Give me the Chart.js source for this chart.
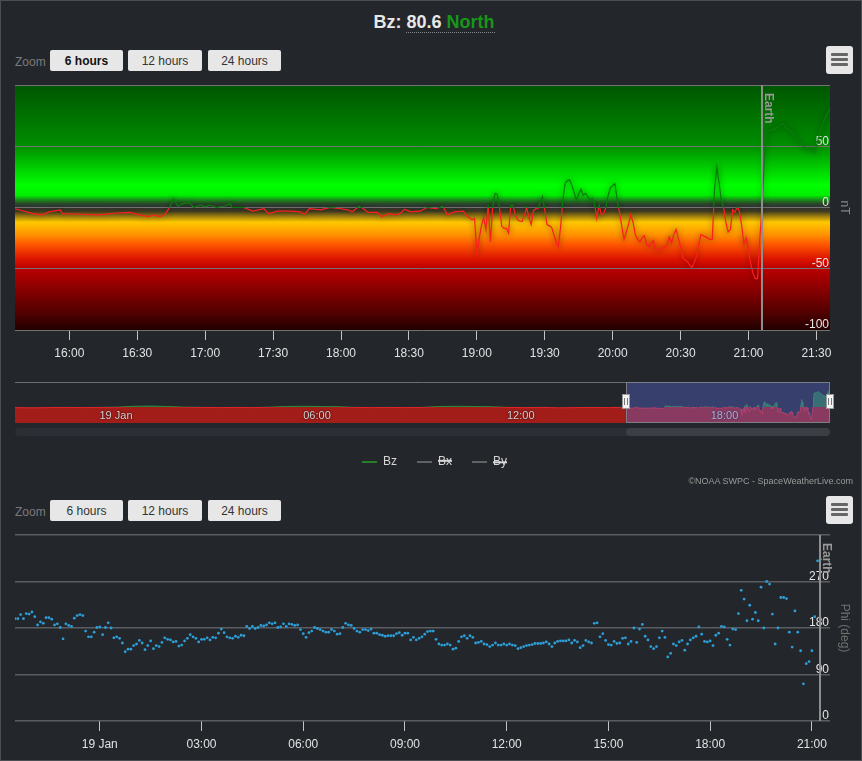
<!DOCTYPE html>
<html>
<head>
<meta charset="utf-8">
<title>Bz</title>
<script src="https://cdn.jsdelivr.net/npm/chart.js@4.4.1/dist/chart.umd.min.js"></script>
<style>
  html, body { margin: 0; padding: 0; background: #23262b; }
  #wrap { position: relative; width: 862px; height: 761px; background: #23262b; overflow: hidden;
          font-family: 'Liberation Sans', Arial, sans-serif; }
  #frame { position: absolute; left: 0; top: 0; width: 860px; height: 759px; border: 1px solid #4b4e53; pointer-events: none; }
  canvas { position: absolute; left: 0; }
  #title { position: absolute; left: 3px; top: 11px; width: 862px; text-align: center; font-weight: bold; font-size: 18px; line-height: 22px; color: #e8e8e8; }
  #title .u { border-bottom: 1px dotted #8a8a8a; }
  #title .north { color: #17961a; }
  .zoomlbl { position: absolute; left: 15px; font-size: 12px; color: #7b7b7b; }
  .btn { position: absolute; height: 21px; line-height: 22px; background: #e7e7e7; border-radius: 2px; font-size: 12px; color: #333; text-align: center; }
  .btn.sel { font-weight: bold; color: #111; }
  .menu { position: absolute; left: 826px; width: 27px; height: 28px; background: #e7e7e7; border-radius: 3px; }
  .menu i { position: absolute; left: 5px; width: 17px; height: 3px; background: #666; border-radius: 1px; }
  #credits { position: absolute; right: 9px; top: 476px; font-size: 9px; color: #9a9a9a; }
</style>
</head>
<body>
<div id="wrap">
  <div id="title">Bz: <span class="u"><span id="bzNow"></span> <span class="north">North</span></span></div>

  <div class="zoomlbl" style="top:55px">Zoom</div>
  <div class="btn sel" style="left:50px;top:50px;width:73px">6 hours</div>
  <div class="btn" style="left:128px;top:50px;width:74px">12 hours</div>
  <div class="btn" style="left:208px;top:50px;width:73px">24 hours</div>
  <div class="menu" style="top:46px"><i style="top:7px"></i><i style="top:12px"></i><i style="top:17px"></i></div>

  <canvas id="bzChart" width="862" height="290" style="top:80px"></canvas>
  <canvas id="navChart" width="862" height="108" style="top:370px"></canvas>
  <div id="credits">©NOAA SWPC - SpaceWeatherLive.com</div>

  <div class="zoomlbl" style="top:505px">Zoom</div>
  <div class="btn" style="left:50px;top:500px;width:73px">6 hours</div>
  <div class="btn" style="left:128px;top:500px;width:74px">12 hours</div>
  <div class="btn" style="left:208px;top:500px;width:73px">24 hours</div>
  <div class="menu" style="top:496px"><i style="top:7px"></i><i style="top:12px"></i><i style="top:17px"></i></div>

  <canvas id="phiChart" width="862" height="231" style="top:530px"></canvas>
  <div id="frame"></div>
</div>

<script>
// --- Bz (nT), last 6 hours, 19 Jan ---
const bzTimes = [
  '15:36','15:44','15:48','15:51','15:56','15:57','16:06','16:13','16:21','16:27',
  '16:31','16:35','16:37','16:40','16:42','16:44','16:46','16:48','16:50','16:53',
  '16:55','16:58','17:00','17:02','17:05','17:08','17:11','17:12','17:17','17:21',
  '17:26','17:28','17:32','17:38','17:42','17:44','17:46','17:51','17:55','18:00',
  '18:03','18:05','18:08','18:10','18:12','18:16','18:18','18:21','18:24','18:26',
  '18:28','18:31','18:35','18:38','18:42','18:45','18:47','18:50','18:54','18:56',
  '18:58','18:59','19:00','19:01','19:02','19:03','19:04','19:05','19:06','19:07',
  '19:08','19:09','19:10','19:11','19:12','19:13','19:14','19:15','19:16','19:17',
  '19:18','19:19','19:20','19:21','19:22','19:23','19:24','19:25','19:26','19:27',
  '19:28','19:29','19:30','19:31','19:32','19:33','19:34','19:35','19:36','19:37',
  '19:38','19:39','19:40','19:41','19:42','19:43','19:44','19:45','19:46','19:47',
  '19:48','19:49','19:50','19:51','19:52','19:53','19:54','19:55','19:56','19:57',
  '19:58','19:59','20:00','20:01','20:02','20:03','20:04','20:05','20:06','20:07',
  '20:08','20:09','20:10','20:11','20:12','20:13','20:14','20:15','20:16','20:17',
  '20:18','20:19','20:20','20:21','20:22','20:23','20:24','20:25','20:26','20:27',
  '20:28','20:29','20:30','20:31','20:32','20:33','20:34','20:35','20:36','20:37',
  '20:38','20:39','20:40','20:41','20:42','20:43','20:44','20:45','20:46','20:47',
  '20:48','20:49','20:50','20:51','20:52','20:53','20:54','20:55','20:56','20:57',
  '20:58','20:59','21:00','21:01','21:02','21:03','21:04','21:05','21:06','21:07',
  '21:08','21:10','21:12','21:15','21:17','21:20','21:22','21:24','21:25','21:27',
  '21:29','21:30','21:32','21:34','21:36'
];
const bzValues = [
  -1, -5, -6, -3.5, -2, -5, -5.5, -6, -4.5, -4,
  -6, -7.5, -6, -7.5, -6, -1, 7, 1, 3, 4,
  0, 2, 0.5, 2, 0, 1, 3, 0, 0, -3,
  -1, -5, -3, -3, -3.5, -5.5, -1, -2, 0, -1,
  -2, -3.5, 1, -1, -4, -4, -7.5, -5, -6, -5,
  -1.5, -3.5, -3, 0, -1, 1, -6, -3.5, -3, -7.5,
  -10, -9, -37, -26, -15, -8, -18, 2, -28, 0,
  11.5, 11, 0, -15, -17, -17, -21, 2, 2, -6,
  -10, -11, -11.5, -6, 0, -8, -14, -2.6, -1, -1,
  4, 9, -2, -14, -15, -16, -22, -28, -32, -16,
  6, 20, 22, 22.5, 18, 12, 6, 11, 15, 10,
  11.5, 9, 6, 7.5, 3, -9, 2, -6, -5, 0,
  10, 16, 18, 19.5, 6, -4, -15, -26, -20, -14,
  -6, -12, -22, -26, -28, -25, -23, -30, -32, -29,
  -27, -35, -35, -34, -33, -32, -31, -24, -29, -22,
  -18, -25, -32, -41, -43, -44, -47, -49, -45, -40,
  -30, -22, -23, -24, -25, -26, -26, 15, 33, 20,
  6, 0, -12, -20, -18, -2, -4, 0.5, -3.5, -15,
  -30, -25, -35, -46, -54, -58, -58, -25, 0, 40,
  62, 63, 64.5, 68.6, 64.5, 60, 55, 51, 47, 49,
  45, 50, 64, 74, 80.6
];
const bzTickTimes = ['16:00','16:30','17:00','17:30','18:00','18:30','19:00','19:30','20:00','20:30','21:00','21:30'];
const bzTickLabels = ['16:00','16:30','17:00','17:30','18:00','18:30','19:00','19:30','20:00','20:30','21:00','21:30'];
const bzRange = ['15:36', '21:36'];
const bzEarth = '21:06';

// --- navigator: 24 hours of Bz, earlier part from 18 Jan 21:36 ---
const navEarlyTimes = [
  '21:36','22:06','22:36','23:06','23:36','00:06','00:36','01:06','01:36','02:06',
  '02:36','03:06','03:36','04:06','04:36','05:06','05:36','06:06','06:36','07:06',
  '07:36','08:06','08:36','09:06','09:36','10:06','10:36','11:06','11:36','12:06',
  '12:36','13:06','13:36','14:06','14:36','15:06'
];
const navEarlyValues = [
  -3, -4, -3, -2, -3, -2, -1, 3, 4, 2,
  -1, -2, -3, -2, -3, -1, 2, 3, 2, 1,
  -2, -3, -2, -3, -2, 2, 3, 2, 1, -2,
  -3, -2, -4, -3, -2, -3
];
const navTickTimes = ['00:00','06:00','12:00','18:00'];
const navTickLabels = ['19 Jan','06:00','12:00','18:00'];

// --- Phi (deg), 24 hours, 5 minute samples, from 18 Jan 21:30 ---
const phiTimes = [
  '21:30','21:35','21:40','21:45','21:50','21:55',
  '22:00','22:05','22:10','22:15','22:20','22:25','22:30','22:35','22:40','22:45','22:50','22:55',
  '23:00','23:05','23:10','23:15','23:20','23:25','23:30','23:35','23:40','23:45','23:50','23:55',
  '00:00','00:05','00:10','00:15','00:20','00:25','00:30','00:35','00:40','00:45','00:50','00:55',
  '01:00','01:05','01:10','01:15','01:20','01:25','01:30','01:35','01:40','01:45','01:50','01:55',
  '02:00','02:05','02:10','02:15','02:20','02:25','02:30','02:35','02:40','02:45','02:50','02:55',
  '03:00','03:05','03:10','03:15','03:20','03:25','03:30','03:35','03:40','03:45','03:50','03:55',
  '04:00','04:05','04:10','04:15','04:20','04:25','04:30','04:35','04:40','04:45','04:50','04:55',
  '05:00','05:05','05:10','05:15','05:20','05:25','05:30','05:35','05:40','05:45','05:50','05:55',
  '06:00','06:05','06:10','06:15','06:20','06:25','06:30','06:35','06:40','06:45','06:50','06:55',
  '07:00','07:05','07:10','07:15','07:20','07:25','07:30','07:35','07:40','07:45','07:50','07:55',
  '08:00','08:05','08:10','08:15','08:20','08:25','08:30','08:35','08:40','08:45','08:50','08:55',
  '09:00','09:05','09:10','09:15','09:20','09:25','09:30','09:35','09:40','09:45','09:50','09:55',
  '10:00','10:05','10:10','10:15','10:20','10:25','10:30','10:35','10:40','10:45','10:50','10:55',
  '11:00','11:05','11:10','11:15','11:20','11:25','11:30','11:35','11:40','11:45','11:50','11:55',
  '12:00','12:05','12:10','12:15','12:20','12:25','12:30','12:35','12:40','12:45','12:50','12:55',
  '13:00','13:05','13:10','13:15','13:20','13:25','13:30','13:35','13:40','13:45','13:50','13:55',
  '14:00','14:05','14:10','14:15','14:20','14:25','14:30','14:35','14:40','14:45','14:50','14:55',
  '15:00','15:05','15:10','15:15','15:20','15:25','15:30','15:35','15:40','15:45','15:50','15:55',
  '16:00','16:05','16:10','16:15','16:20','16:25','16:30','16:35','16:40','16:45','16:50','16:55',
  '17:00','17:05','17:10','17:15','17:20','17:25','17:30','17:35','17:40','17:45','17:50','17:55',
  '18:00','18:05','18:10','18:15','18:20','18:25','18:30','18:35','18:40','18:45','18:50','18:55',
  '19:00','19:05','19:10','19:15','19:20','19:25','19:30','19:35','19:40','19:45','19:50','19:55',
  '20:00','20:05','20:10','20:15','20:20','20:25','20:30','20:35','20:40','20:45','20:50','20:55',
  '21:00','21:05','21:10','21:15'
];
const phiValues = [
  198,198,206,198,208,207,211,202,186,192,
  189,200,200,197,186,188,181,159,188,185,
  183,199,204,206,204,174,163,163,172,181,
  182,167,181,190,180,161,163,160,151,134,
  139,139,146,149,156,151,138,146,155,140,
  146,144,152,161,158,157,153,154,145,147,
  155,160,167,163,160,153,158,158,161,157,
  162,161,170,178,171,163,161,160,164,162,
  166,165,183,179,183,179,181,185,184,186,
  190,188,190,181,182,188,183,188,187,185,
  186,177,169,162,171,174,181,179,177,174,
  172,172,177,174,168,169,181,189,186,185,
  179,174,172,177,177,175,178,170,170,167,
  166,164,165,165,165,169,171,166,170,170,
  157,162,157,160,163,168,
  173,174,174,158,149,147,147,149,147,139,
  141,154,163,165,160,165,162,151,152,154,
  149,148,144,147,151,147,147,149,147,149,
  147,146,140,142,144,146,147,148,150,150,
  150,151,153,149,144,151,154,155,155,155,
  157,151,156,153,142,146,156,153,151,189,
  190,163,169,156,148,147,154,150,151,160,
  161,149,154,180,152,178,187,164,157,144,
  140,144,161,174,162,124,131,149,146,153,
  156,137,149,157,161,164,182,168,154,153,
  155,146,166,170,183,182,158,147,178,177,
  208,253,236,194,224,197,210,194,259,180,
  270,265,207,149,180,239,239,237,172,143,
  213,172,136,72,111,115,136,202,310,313
];
const phiTickTimes = ['00:00','03:00','06:00','09:00','12:00','15:00','18:00','21:00'];
const phiTickLabels = ['19 Jan','03:00','06:00','09:00','12:00','15:00','18:00','21:00'];
const phiRange = ['21:30', '21:32'];   // 18 Jan 21:30 -> 19 Jan 21:32
const phiEarth = '21:15';

const legendNames = ['Bz', 'Bx', 'By'];
const legendColors = ['#2c9a2c', '#777777', '#777777'];

// minutes relative to 19 Jan 00:00; a list rolls over to the next day when the clock goes back
function toMinutes(list, startDay) {
  let day = startDay, prev = -1;
  return list.map(s => {
    const [h, m] = s.split(':').map(Number);
    const v = h * 60 + m;
    if (v < prev) day += 1440;
    prev = v;
    return day + v;
  });
}
const clock = (s, day = 0) => toMinutes([s], day)[0];

const bzX = toMinutes(bzTimes, 0);
const bzPoints = bzX.map((t, i) => ({ x: t, y: bzValues[i] }));
const navX = toMinutes(navEarlyTimes, -1440).concat(bzX);
const navY = navEarlyValues.concat(bzValues);
const navPoints = navX.map((t, i) => ({ x: t, y: navY[i] }));
const phiX = toMinutes(phiTimes, -1440);
const phiPoints = phiX.map((t, i) => ({ x: t, y: phiValues[i] }));

document.getElementById('bzNow').textContent = bzValues[bzValues.length - 1].toFixed(1);

Chart.defaults.font.family = "'Liberation Sans', Arial, sans-serif";
Chart.defaults.font.size = 12;
Chart.defaults.color = '#e0e0e0';

// colour bands behind the Bz line, keyed by nT
const bandStops = [
  [100, '#005600'], [50, '#008e00'], [32, '#00cf00'], [18, '#00ff00'], [10, '#00f000'],
  [6, '#1b861b'], [3, '#294529'], [0, '#303030'], [-3, '#3e3a20'], [-7, '#9a7c10'],
  [-12, '#ffc800'], [-22, '#ff9400'], [-30, '#ff5800'], [-42, '#dc1400'], [-50, '#ba0000'],
  [-63, '#940000'], [-85, '#540000'], [-100, '#210000']
];

function splitAtZero(chart, above, below) {
  const a = chart.chartArea;
  if (!a) return above;
  const y0 = chart.scales.y.getPixelForValue(0);
  const f = Math.min(1, Math.max(0, (y0 - a.top) / (a.bottom - a.top)));
  const g = chart.ctx.createLinearGradient(0, a.top, 0, a.bottom);
  g.addColorStop(0, above); g.addColorStop(f, above);
  g.addColorStop(f, below); g.addColorStop(1, below);
  return g;
}

// y axes sit inside the plot, so they need no room for half labels
const noEdgePadding = s => { s.width = 32; s.paddingTop = 0; s.paddingBottom = 0; };

const bandBackground = {
  id: 'bandBackground',
  beforeDraw(chart) {
    const { ctx, chartArea: a, scales: { y } } = chart;
    const g = ctx.createLinearGradient(0, a.top, 0, a.bottom);
    bandStops.forEach(([v, c]) => g.addColorStop((y.getPixelForValue(v) - a.top) / a.height, c));
    ctx.save();
    ctx.fillStyle = g;
    ctx.fillRect(a.left, a.top, a.width, a.height);
    ctx.restore();
  }
};

const lineGlow = {
  id: 'lineGlow',
  beforeDatasetDraw(chart) {
    chart.ctx.save();
    chart.ctx.shadowColor = 'rgba(0,0,0,0.6)';
    chart.ctx.shadowBlur = 6;
  },
  afterDatasetDraw(chart) { chart.ctx.restore(); }
};

function earthMarker(time) {
  return {
    id: 'earthMarker',
    afterDatasetsDraw(chart) {
      const { ctx, chartArea: a, scales: { x } } = chart;
      const px = Math.round(x.getPixelForValue(time));
      ctx.save();
      ctx.strokeStyle = '#8e8e8e';
      ctx.lineWidth = 2;
      ctx.beginPath(); ctx.moveTo(px, a.top); ctx.lineTo(px, a.bottom); ctx.stroke();
      ctx.translate(px + 6, a.top + 8);
      ctx.rotate(Math.PI / 2);
      ctx.font = "bold 12px 'Liberation Sans', Arial, sans-serif";
      ctx.fillStyle = '#999';
      ctx.textBaseline = 'middle';
      ctx.fillText('Earth', 0, 0);
      ctx.restore();
    }
  };
}

// === 1. Bz line ===
new Chart(document.getElementById('bzChart'), {
  type: 'line',
  data: {
    datasets: [{
      label: 'Bz',
      data: bzPoints,
      borderColor: ctx => splitAtZero(ctx.chart, '#0a7c0a', '#ff1d1d'),
      borderWidth: 1.2,
      pointRadius: 0,
      tension: 0
    }]
  },
  options: {
    responsive: false,
    animation: false,
    layout: { padding: { left: 15, top: 5, right: 0, bottom: 0 } },
    plugins: { legend: { display: false }, tooltip: { enabled: false } },
    scales: {
      x: {
        type: 'linear',
        min: clock(bzRange[0]), max: clock(bzRange[1]),
        afterBuildTicks: s => { s.ticks = toMinutes(bzTickTimes, 0).map(v => ({ value: v })); },
        afterFit: s => { s.height = 40; },
        grid: { drawOnChartArea: false, tickLength: 10, color: '#c4c4c4' },
        border: { display: false },
        ticks: { padding: 6, maxRotation: 0, autoSkip: false, color: '#e2e2e2', callback: (v, i) => bzTickLabels[i] }
      },
      y: {
        position: 'right',
        min: -100, max: 100,
        afterFit: noEdgePadding,
        grid: { color: '#737373', drawTicks: false },
        border: { display: false },
        ticks: { stepSize: 50, mirror: true, padding: -1, labelOffset: -5, color: '#e6e6e6', callback: v => v === 100 ? '' : v },
        title: { display: true, text: 'nT', color: '#858585', padding: { top: 10, bottom: 0 } }
      }
    }
  },
  plugins: [bandBackground, lineGlow, earthMarker(clock(bzEarth))]
});

// === 2. Navigator with selected range ===
const navigatorParts = {
  id: 'navigatorParts',
  afterDatasetsDraw(chart) {
    const { ctx, chartArea: a, scales: { x } } = chart;
    ctx.save();
    // axis labels inside the strip
    ctx.font = "11px 'Liberation Sans', Arial, sans-serif";
    ctx.textBaseline = 'middle';
    ctx.fillStyle = '#d2d2d2';
    ctx.shadowColor = 'rgba(0,0,0,0.9)';
    ctx.shadowBlur = 2;
    toMinutes(navTickTimes, 0).forEach((v, i) => ctx.fillText(navTickLabels[i], x.getPixelForValue(v) + 3, a.bottom - 7));
    ctx.shadowBlur = 0;
    const x1 = Math.round(x.getPixelForValue(clock(bzRange[0])));
    const x2 = Math.round(x.getPixelForValue(clock(bzRange[1])));
    // selection mask
    ctx.fillStyle = 'rgba(92,112,225,0.36)';
    ctx.fillRect(x1, a.top, x2 - x1, a.height);
    // outline
    ctx.strokeStyle = '#6e6e6e';
    ctx.lineWidth = 1;
    ctx.beginPath(); ctx.moveTo(a.left, a.top + 0.5); ctx.lineTo(a.right, a.top + 0.5); ctx.stroke();
    ctx.strokeStyle = '#7c7c86';
    ctx.strokeRect(x1 + 0.5, a.top + 0.5, x2 - x1 - 1, a.height - 1);
    // handles
    [x1, x2].forEach(hx => {
      ctx.fillStyle = '#f2f2f2';
      ctx.strokeStyle = '#999';
      ctx.fillRect(hx - 4, a.top + 12, 8, 15);
      ctx.strokeRect(hx - 3.5, a.top + 12.5, 7, 14);
      ctx.strokeStyle = '#777';
      ctx.beginPath();
      ctx.moveTo(hx - 1.5, a.top + 16); ctx.lineTo(hx - 1.5, a.top + 23);
      ctx.moveTo(hx + 1.5, a.top + 16); ctx.lineTo(hx + 1.5, a.top + 23);
      ctx.stroke();
    });
    // scrollbar
    const sy = a.bottom + 5;
    ctx.fillStyle = '#2b2e34';
    ctx.beginPath(); ctx.roundRect(a.left, sy, a.width, 8, 4); ctx.fill();
    ctx.fillStyle = '#3b3e44';
    ctx.beginPath(); ctx.roundRect(x1, sy, a.right - x1, 8, 4); ctx.fill();
    ctx.restore();
  }
};

new Chart(document.getElementById('navChart'), {
  type: 'line',
  data: {
    datasets: [
      {
        label: legendNames[0],
        data: navPoints,
        fill: 'start',
        backgroundColor: ctx => splitAtZero(ctx.chart, 'rgba(38,130,62,0.8)', 'rgba(170,28,24,0.95)'),
        borderColor: ctx => splitAtZero(ctx.chart, '#2b8d3c', '#e2262a'),
        borderWidth: 1,
        pointRadius: 0,
        tension: 0
      },
      { label: legendNames[1], data: [], hidden: true, borderColor: legendColors[1] },
      { label: legendNames[2], data: [], hidden: true, borderColor: legendColors[2] }
    ]
  },
  options: {
    responsive: false,
    animation: false,
    layout: { padding: { left: 15, top: 12, right: 8, bottom: 0 } },
    plugins: {
      tooltip: { enabled: false },
      legend: {
        position: 'bottom',
        onClick: null,
        labels: {
          usePointStyle: true,
          pointStyleWidth: 15,
          padding: 20,
          color: '#d6d6d6',
          font: { size: 12 },
          generateLabels: chart => Chart.defaults.plugins.legend.labels.generateLabels(chart).map((item, i) => ({
            ...item, pointStyle: 'line', strokeStyle: legendColors[i], fillStyle: legendColors[i], lineWidth: 1.5
          }))
        }
      }
    },
    scales: {
      x: {
        type: 'linear',
        min: navX[0], max: navX[navX.length - 1],
        afterFit: s => { s.height = 13; },
        grid: { display: false },
        border: { display: false },
        ticks: { display: false }
      },
      y: {
        position: 'right',
        min: -72, max: 112,
        afterFit: s => { s.width = 24; s.paddingTop = 0; s.paddingBottom = 0; },
        grid: { display: false },
        border: { display: false },
        ticks: { display: false }
      }
    }
  },
  plugins: [navigatorParts]
});

// === 3. Phi scatter ===
new Chart(document.getElementById('phiChart'), {
  type: 'scatter',
  data: {
    datasets: [{
      label: 'Phi',
      data: phiPoints,
      pointRadius: 1.4,
      pointBackgroundColor: '#2d9fd8',
      pointBorderWidth: 0
    }]
  },
  options: {
    responsive: false,
    animation: false,
    layout: { padding: { left: 15, top: 5, right: 0, bottom: 0 } },
    plugins: { legend: { display: false }, tooltip: { enabled: false } },
    scales: {
      x: {
        type: 'linear',
        min: clock(phiRange[0], -1440), max: clock(phiRange[1], 0),
        afterBuildTicks: s => { s.ticks = toMinutes(phiTickTimes, 0).map(v => ({ value: v })); },
        afterFit: s => { s.height = 40; },
        grid: { drawOnChartArea: false, tickLength: 10, color: '#c4c4c4' },
        border: { display: false },
        ticks: { padding: 6, maxRotation: 0, autoSkip: false, color: '#e2e2e2', callback: (v, i) => phiTickLabels[i] }
      },
      y: {
        position: 'right',
        min: 0, max: 360,
        afterFit: noEdgePadding,
        grid: { color: '#5b5d62', lineWidth: 1.5, drawTicks: false },
        border: { display: false },
        ticks: { stepSize: 90, mirror: true, padding: -1, labelOffset: -5, color: '#e6e6e6', callback: v => v === 360 ? '' : v },
        title: { display: true, text: 'Phi (deg)', color: '#6f6f6f', padding: { top: 10, bottom: 0 } }
      }
    }
  },
  plugins: [earthMarker(clock(phiEarth))]
});
</script>
</body>
</html>
